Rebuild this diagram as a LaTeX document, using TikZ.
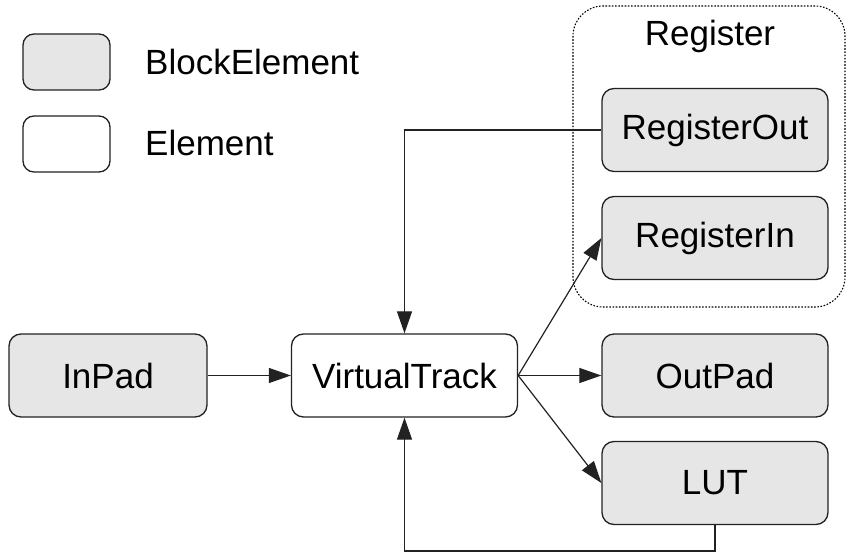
\documentclass[tikz,border=0pt]{standalone}
\usepackage{fontspec}
\setmainfont{Liberation Sans}
\usetikzlibrary{arrows.meta}
\definecolor{blockgray}{HTML}{E6E6E6}
\definecolor{edgecol}{HTML}{222222}
\begin{document}
\begin{tikzpicture}[x=1pt,y=-1pt,
  label font/.style={font=\fontsize{35}{41}\selectfont},
  box/.style={draw=edgecol, line width=1.3pt, rounded corners=12pt,
    minimum width=226pt, minimum height=83pt, inner sep=0pt, label font},
  blockbox/.style={box, fill=blockgray},
  elembox/.style={box, fill=white},
  keybox/.style={draw=edgecol, line width=1.3pt, rounded corners=11pt,
    minimum width=87pt, minimum height=56pt, inner sep=0pt},
  keytext/.style={anchor=west, inner sep=0pt, label font},
  link/.style={draw=edgecol, line width=1.2pt, -{Triangle[length=22pt,width=15pt]}},
  group/.style={draw=black, line width=1.1pt, dash pattern=on 1.6pt off 1.6pt, rounded corners=30pt}
]
\useasboundingbox (0,0) rectangle (846,553);

% legend
\node[keybox, fill=blockgray] (keyblock) at (66.5,62) {};
\node[keybox, fill=white] (keyelem) at (66.5,144) {};
\node[keytext] (keyblocktext) at (145,62) {BlockElement};
\node[keytext] (keyelemtext) at (145,143) {Element};

% register group
\draw[group] (573,6) rectangle (845,307);
\node[label font] (reglabel) at (710,36) {Register};

% elements
\node[blockbox] (regout) at (715,130) {RegisterOut};
\node[blockbox] (regin) at (715,238) {RegisterIn};
\node[blockbox] (outpad) at (715,375.5) {OutPad};
\node[blockbox] (lut) at (715,483) {LUT};
\node[blockbox, minimum width=198pt] (inpad) at (108,375.5) {InPad};
\node[elembox] (vt) at (404.5,375.5) {VirtualTrack};

% connectors
\coordinate (loop) at (714,551);
\draw[link] (inpad) -- (vt);
\draw[link] (vt.east) -- (regin.west);
\draw[link] (vt.east) -- (outpad);
\draw[link] (vt.east) -- (lut.west);
\draw[link] (regout.west) -| (vt.north);
\draw[link] (lut.south) -- (lut.south |- loop) -| (vt.south);
\end{tikzpicture}
\end{document}
